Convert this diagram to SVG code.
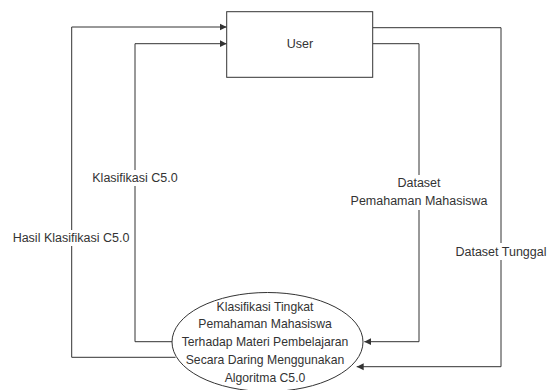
<svg xmlns="http://www.w3.org/2000/svg" width="549" height="390" viewBox="0 0 549 390">
<defs>
<style>
.ln{fill:none;stroke:#333;stroke-width:1}
.nd{fill:#fff;stroke:#333;stroke-width:1}
.t{font-family:"Liberation Sans",Arial,sans-serif;font-size:12.5px;fill:#333;text-anchor:middle;dominant-baseline:central}
.bg{fill:#fff}
</style>
<marker id="ar" markerWidth="8" markerHeight="8" refX="7" refY="4" orient="auto" markerUnits="userSpaceOnUse">
<path d="M0,0.5 L7,4 L0,7.5 Z" fill="#333"/>
</marker>
</defs>
<rect width="549" height="390" fill="#fff"/>
<g id="connectors">
<path class="ln" d="M175.5,357.3 H71.7 V27 H226.7" marker-end="url(#ar)"/>
<path class="ln" d="M172.5,341.7 H135 V43.7 H226.7" marker-end="url(#ar)"/>
<path class="ln" d="M372.7,43.7 H419 V341.7 H364.3" marker-end="url(#ar)"/>
<path class="ln" d="M372.7,27.7 H501 V366.7 H356.7" marker-end="url(#ar)"/>
<g id="labels">
<rect class="bg" x="10" y="230" width="122" height="16"/>
<text class="t" x="71" y="238.3">Hasil Klasifikasi C5.0</text>
<rect class="bg" x="90" y="170" width="90" height="16"/>
<text class="t" x="135" y="178.3">Klasifikasi C5.0</text>
<rect class="bg" x="348" y="175" width="142" height="35"/>
<text class="t" x="419" y="183.3">Dataset</text>
<text class="t" x="419" y="201.3">Pemahaman Mahasiswa</text>
<rect class="bg" x="455" y="243" width="92" height="17"/>
<text class="t" x="501" y="251.7">Dataset Tunggal</text>
</g>
</g>
<g id="user">
<rect class="nd" x="226.7" y="11.7" width="146" height="65.6"/>
<text class="t" x="300" y="43.7">User</text>
</g>
<g id="process">
<ellipse class="nd" cx="267.5" cy="342" rx="95.5" ry="49.5"/>
<text class="t" x="265" y="306.7" style="font-size:12.2px">Klasifikasi Tingkat</text>
<text class="t" x="265" y="324.3" style="font-size:12.2px">Pemahaman Mahasiswa</text>
<text class="t" x="265" y="342" style="font-size:12.2px">Terhadap Materi Pembelajaran</text>
<text class="t" x="265" y="359.8" style="font-size:12.2px">Secara Daring Menggunakan</text>
<text class="t" x="265" y="377.8" style="font-size:12.2px">Algoritma C5.0</text>
</g>
</svg>
